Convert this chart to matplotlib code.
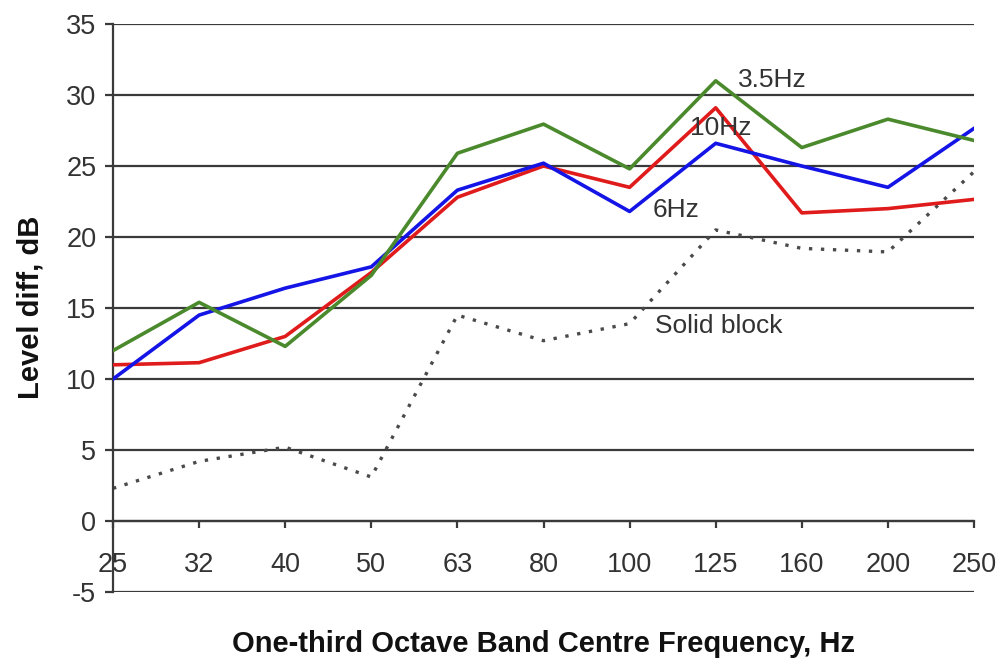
import matplotlib
matplotlib.use("Agg")
import matplotlib.pyplot as plt

plt.rcParams['font.family'] = ['Liberation Sans', 'DejaVu Sans']

categories = ["25", "32", "40", "50", "63", "80", "100", "125", "160", "200", "250"]
hz35 = [12.0, 15.4, 12.3, 17.3, 25.9, 27.95, 24.8, 31.0, 26.3, 28.3, 26.8]
hz6 = [10.0, 14.5, 16.4, 17.9, 23.3, 25.2, 21.8, 26.6, 25.0, 23.5, 27.65]
hz10 = [11.0, 11.15, 13.0, 17.5, 22.8, 25.0, 23.5, 29.1, 21.7, 22.0, 22.65]
solid = [2.3, 4.2, 5.2, 3.1, 14.5, 12.7, 13.9, 20.5, 19.2, 18.95, 24.6]

yticks = [-5, 0, 5, 10, 15, 20, 25, 30, 35]

fig = plt.figure(figsize=(10, 6.6), dpi=100)
ax = fig.add_axes([0.113, 0.103, 0.861, 0.8606])

x = list(range(len(categories)))

for yv in yticks:
    ax.axhline(yv, color="#3a3a3a", lw=1.6, zorder=1)

ax.plot(x, solid, color="#4a4a4a", lw=2.4, linestyle=(0, (1.0, 2.6)),
        dash_capstyle="butt", zorder=2)
ax.plot(x, hz10, color="#e01b1b", lw=2.6, zorder=3)
ax.plot(x, hz6, color="#1414e6", lw=2.6, zorder=4)
ax.plot(x, hz35, color="#4a8a2c", lw=2.6, zorder=5)

ax.set_xlim(0, len(categories) - 1)
ax.set_ylim(-5, 35)

ax.spines['top'].set_visible(False)
ax.spines['right'].set_visible(False)
ax.spines['bottom'].set_position(('data', 0))
ax.spines['bottom'].set_color("#3a3a3a")
ax.spines['bottom'].set_linewidth(1.6)
ax.spines['left'].set_color("#3a3a3a")
ax.spines['left'].set_linewidth(1.6)

ax.set_yticks(yticks)
ax.set_yticklabels([str(v) for v in yticks])
ax.set_xticks(x)
ax.set_xticklabels(categories)
ax.tick_params(axis='y', direction='out', length=6, width=1.6, color="#3a3a3a",
               labelsize=19.5, labelcolor="#333333", pad=6)
ax.tick_params(axis='x', direction='out', length=5, width=1.6, color="#3a3a3a",
               labelsize=19.5, labelcolor="#333333", pad=17)

ax.text(7.26, 31.05, "3.5Hz", fontsize=19, color="#333333", va="center", ha="left")
ax.text(6.70, 27.7, "10Hz", fontsize=19, color="#333333", va="center", ha="left")
ax.text(6.27, 21.9, "6Hz", fontsize=19, color="#333333", va="center", ha="left")
ax.text(6.30, 13.7, "Solid block", fontsize=19, color="#333333", va="center", ha="left")

fig.text(0.031, 0.535, "Level diff, dB", rotation=90, fontsize=21, fontweight="bold",
         ha="center", va="center", color="#111111")
fig.text(0.544, 0.024, "One-third Octave Band Centre Frequency, Hz", fontsize=21,
         fontweight="bold", ha="center", va="center", color="#111111")

fig.savefig("out.png", dpi=100)
